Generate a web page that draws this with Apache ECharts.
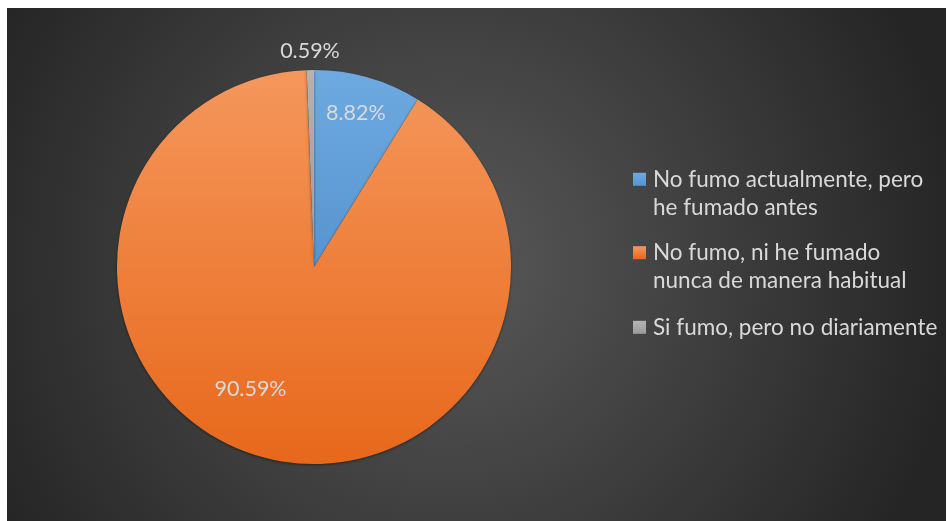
<!DOCTYPE html>
<html>
<head>
<meta charset="utf-8">
<script src="https://cdn.jsdelivr.net/npm/echarts@6/dist/echarts.min.js"></script>
<style>
  html, body { margin: 0; padding: 0; background: #ffffff; }
  #chart { position: absolute; left: 7px; top: 8px; width: 939px; height: 513px; }
</style>
</head>
<body>
<div id="chart"></div>
<script>
// Survey answers about smoking habits (percent of respondents)
const categories = [
  'No fumo actualmente, pero\nhe fumado antes',
  'No fumo, ni he fumado\nnunca de manera habitual',
  'Si fumo, pero no diariamente'
];
const shares = [8.82, 90.59, 0.59];

// Slice fills: vertical gradients (light top, darker bottom)
const sliceColors = [
  ['#6eaae1', '#5794cf'],
  ['#f5975c', '#e7681b'],
  ['#b3b3b3', '#9b9b9b']
];

const textColor = '#d9d9d9';
const fontFamily = 'Lato, "Open Sans", sans-serif';

const chart = echarts.init(document.getElementById('chart'));

const cx = 307, cy = 259, R = 197;
// Label anchor: radius factor and angular shift (degrees) from the slice middle
const labelPlace = [
  { k: 0.81, shift: -0.7 },
  { k: 0.70, shift: 12.6 },
  { k: 1.096, shift: 0 }
];

const total = shares.reduce((a, b) => a + b, 0);
const midAngles = [];
let acc = 0;
shares.forEach(v => {
  midAngles.push((acc + v / 2) / total * 360);
  acc += v;
});

// One legend per entry; a leading blank line keeps the marker beside the first text line
function legendFor(i, top) {
  const multiLine = categories[i].indexOf('\n') >= 0;
  return {
    data: [categories[i]],
    orient: 'vertical',
    left: 626,
    top: top,
    padding: 0,
    itemWidth: 13,
    itemHeight: 13,
    icon: 'rect',
    selectedMode: false,
    formatter: name => (multiLine ? '\n' : '') + name,
    textStyle: {
      color: textColor,
      fontFamily: fontFamily,
      fontSize: 22.5,
      lineHeight: 28,
      padding: [0, 0, 0, 2]
    },
    itemGap: 0
  };
}

chart.setOption({
  animation: false,
  backgroundColor: {
    type: 'radial', x: 0.47, y: 0.5, r: 1.0,
    colorStops: [
      { offset: 0, color: '#595959' },
      { offset: 1, color: '#252525' }
    ]
  },
  legend: [
    legendFor(0, 129.3),
    legendFor(1, 202.7),
    legendFor(2, 305.3)
  ],
  series: [{
    type: 'pie',
    center: [cx, cy],
    radius: R,
    startAngle: 90,
    clockwise: true,
    avoidLabelOverlap: false,
    emphasis: { disabled: true },
    itemStyle: {
      shadowBlur: 3,
      shadowColor: 'rgba(0,0,0,0.45)',
      shadowOffsetY: 1
    },
    label: {
      show: true,
      position: 'inside',
      color: textColor,
      fontFamily: fontFamily,
      fontSize: 21.5,
      formatter: p => p.value.toFixed(2) + '%'
    },
    labelLine: { show: false },
    labelLayout: function (params) {
      const i = params.dataIndex;
      const a = (midAngles[i] + labelPlace[i].shift) * Math.PI / 180;
      const r = R * labelPlace[i].k;
      return {
        x: cx + r * Math.sin(a),
        y: cy - r * Math.cos(a),
        align: 'center',
        verticalAlign: 'middle'
      };
    },
    data: categories.map((name, i) => ({
      name: name,
      value: shares[i],
      itemStyle: {
        color: new echarts.graphic.LinearGradient(0, 0, 0, 1, [
          { offset: 0, color: sliceColors[i][0] },
          { offset: 1, color: sliceColors[i][1] }
        ])
      }
    }))
  }]
});
</script>
</body>
</html>
